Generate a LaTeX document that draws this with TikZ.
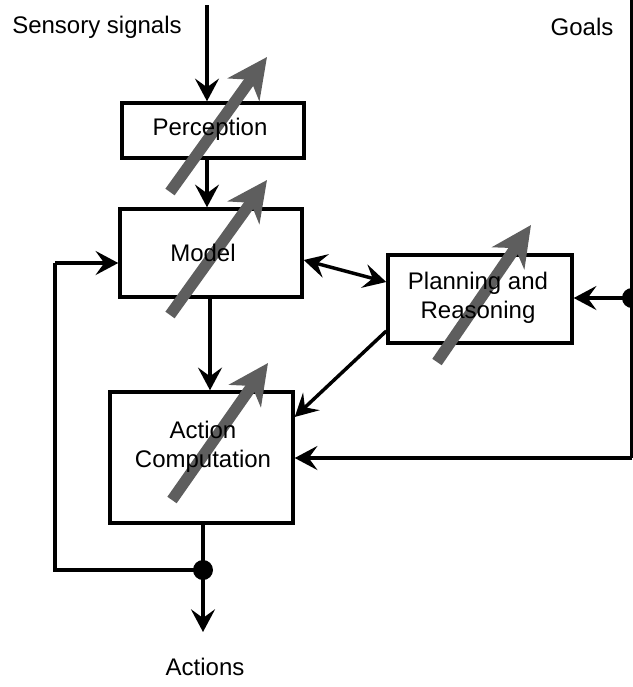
\documentclass[tikz,border=0pt]{standalone}
\usepackage{fontspec}
\setmainfont{Liberation Sans}
\usetikzlibrary{arrows.meta,calc}
\definecolor{arrgray}{HTML}{5E5E5E}
\begin{document}
\begin{tikzpicture}[x=0.75pt,y=-0.75pt,
  box/.style={draw,line width=2.6pt,inner sep=0pt},
  lbl/.style={font=\fontsize{18}{22}\selectfont,align=center,inner sep=0pt},
  conn/.style={line width=2.6pt,-{Stealth[length=17pt,width=18pt,inset=6.5pt]}},
  dconn/.style={line width=2.6pt,{Stealth[length=17pt,width=18pt,inset=6.5pt]}-{Stealth[length=17pt,width=18pt,inset=6.5pt]}},
  plain/.style={line width=2.6pt},
  grayarr/.style={line width=8.5pt,draw=arrgray,-{Stealth[length=30pt,width=29pt,inset=9pt]}}
]
\useasboundingbox (0,0) rectangle (633,687);

% boxes
\node[box,minimum width=136.5pt,minimum height=41.25pt] (perc) at (213,130.5) {};
\node[box,minimum width=136.5pt,minimum height=66pt] (model) at (211,253) {};
\node[box,minimum width=138pt,minimum height=66pt] (plan) at (480,299) {};
\node[box,minimum width=137.25pt,minimum height=98.25pt] (act) at (201.5,457.5) {};

% coordinates
\coordinate (stop) at (207,5);
\coordinate (mx) at (210,0);
\coordinate (gtop) at (632,0);
\coordinate (gdot) at (632,298);
\coordinate (gbot) at (632,458);
\coordinate (adot) at (203,570);
\coordinate (fbl) at (55,570);
\coordinate (ftl) at (55,263);
\coordinate (aout) at (203,632);

% connectors
\draw[conn] (stop) -- (stop |- perc.north);
\draw[conn] (perc.south -| stop) -- (model.north -| stop);
\draw[conn] (model.south -| mx) -- (act.north -| mx);
\draw[dconn] ([yshift=-5.25pt]model.east) -- ([yshift=12.75pt]plan.west);
\draw[conn] ([yshift=-24pt]plan.west) -- ([yshift=30.4pt]act.east);
\draw[plain] (gtop) -- (gbot);
\draw[conn] (gdot) -- (gdot -| plan.east);
\draw[conn] (gbot) -- (gbot -| act.east);
\draw[plain] (act.south -| adot) -- (adot);
\draw[conn] (adot) -- (aout);
\draw[plain,line join=miter] (adot) -- (fbl) -- (ftl);
\draw[conn] (ftl) -- (ftl -| model.west);
\fill (gdot) circle (10);
\fill (adot) circle (10);

% gray arrows
\coordinate (g1a) at (170,192); \coordinate (g1b) at (267,57);
\coordinate (g2a) at (170,315); \coordinate (g2b) at (267,180);
\coordinate (g3a) at (437,362); \coordinate (g3b) at (531,225);
\coordinate (g4a) at (172,500); \coordinate (g4b) at (268,363);
\draw[grayarr] (g1a) -- (g1b);
\draw[grayarr] (g2a) -- (g2b);
\draw[grayarr] (g3a) -- (g3b);
\draw[grayarr] (g4a) -- (g4b);

% labels
\node[lbl] (tsens) at (97,27) {Sensory signals};
\node[lbl] (tgoal) at (582,27) {Goals};
\node[lbl] (tperc) at (210,129) {Perception};
\node[lbl] (tmodel) at (203,253) {Model};
\node[lbl] (tplan) at (478,298) {Planning and\\Reasoning};
\node[lbl] (tact) at (203,447) {Action\\Computation};
\node[lbl] (tacts) at (205,667) {Actions};
\end{tikzpicture}
\end{document}
